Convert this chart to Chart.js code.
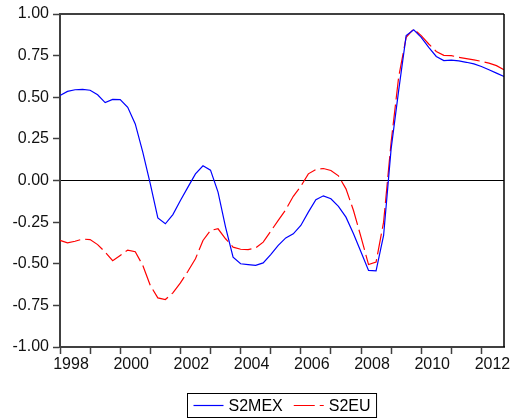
<!DOCTYPE html>
<html>
<head>
<meta charset="utf-8">
<script src="https://cdn.jsdelivr.net/npm/chart.js@4/dist/chart.umd.min.js"></script>
<style>
  html, body { margin: 0; padding: 0; background: #fff; }
  #wrap { width: 513px; height: 419px; position: relative; }
</style>
</head>
<body>
<div id="wrap"><canvas id="myChart"></canvas></div>
<script>
// quarterly sample 1998Q1 - 2012Q4
let years = [1998, 1999, 2000, 2001, 2002, 2003, 2004, 2005, 2006, 2007, 2008, 2009, 2010, 2011, 2012];
let quarters = [];
years.forEach((y) => { for (let q = 1; q <= 4; q++) quarters.push(y + 'Q' + q); });

let s2mex = [
   0.51,  0.535,  0.545,  0.547,  0.542,  0.515,  0.468,  0.487,
   0.486, 0.44,   0.34,   0.17,  -0.02,  -0.225, -0.26,  -0.205,
  -0.12, -0.04,   0.04,   0.088,  0.062, -0.07,  -0.28,  -0.46,
  -0.50, -0.505, -0.51,  -0.495, -0.445, -0.39,  -0.345, -0.32,
  -0.27, -0.19,  -0.115, -0.092, -0.11,  -0.155, -0.22,  -0.32,
  -0.43, -0.54,  -0.543, -0.33,   0.19,   0.54,   0.87,   0.905,
   0.86,  0.80,   0.745,  0.72,   0.723,  0.718,  0.71,   0.70,
   0.685, 0.665,  0.645,  0.625
];
let s2eu = [
  -0.36, -0.375, -0.365, -0.352, -0.355, -0.385, -0.43,  -0.482,
  -0.45, -0.418, -0.428, -0.51,  -0.63,  -0.705, -0.715, -0.675,
  -0.615, -0.545, -0.47, -0.36,  -0.30,  -0.29,  -0.35,  -0.40,
  -0.413, -0.415, -0.405, -0.37, -0.305, -0.24,  -0.175, -0.095,
  -0.035, 0.04,   0.066,  0.072,  0.06,   0.028, -0.05,  -0.18,
  -0.34, -0.505, -0.49,  -0.25,   0.23,   0.62,   0.86,   0.91,
   0.87,  0.82,   0.775,  0.752,  0.75,   0.74,   0.732,  0.724,
   0.716, 0.705,  0.69,   0.665
];
let yTicks = [-1, -0.75, -0.5, -0.25, 0, 0.25, 0.5, 0.75, 1];

let axisColor = '#404040';
let fontFamily = '"Liberation Sans", Arial, sans-serif';

// top and right edges of the plot frame
let framePlugin = {
  id: 'frame',
  afterDraw(chart) {
    let { ctx, chartArea: a } = chart;
    ctx.save();
    ctx.strokeStyle = axisColor;
    ctx.lineWidth = 2;
    ctx.beginPath();
    ctx.moveTo(a.left, a.top);
    ctx.lineTo(a.right, a.top);
    ctx.stroke();
    ctx.strokeStyle = '#000';
    ctx.lineWidth = 1.5;
    ctx.beginPath();
    ctx.moveTo(a.right, a.top);
    ctx.lineTo(a.right, a.bottom);
    ctx.stroke();
    ctx.restore();
  }
};

// boxed legend under the chart
let boxLegend = {
  id: 'boxLegend',
  afterDraw(chart) {
    let { ctx, chartArea: a } = chart;
    let sets = chart.data.datasets;
    ctx.save();
    ctx.font = '16px ' + fontFamily;
    let sample = 30, gapIn = 5, gapOut = 11, pad = 6;
    let w = pad * 2;
    sets.forEach((d, i) => {
      w += sample + gapIn + ctx.measureText(d.label).width;
      if (i < sets.length - 1) w += gapOut;
    });
    let h = 24;
    let x0 = Math.round((a.left + a.right) / 2 - w / 2) + 0.5;
    let y0 = 393.5;
    ctx.strokeStyle = '#000';
    ctx.lineWidth = 1;
    ctx.strokeRect(x0, y0, w, h);
    let x = x0 + pad;
    let ym = y0 + h / 2;
    sets.forEach((d) => {
      ctx.strokeStyle = d.borderColor;
      ctx.lineWidth = 1.2;
      ctx.setLineDash(d.borderDash || []);
      ctx.beginPath();
      ctx.moveTo(x, ym);
      ctx.lineTo(x + sample, ym);
      ctx.stroke();
      ctx.setLineDash([]);
      x += sample + gapIn;
      ctx.fillStyle = '#000';
      ctx.textBaseline = 'middle';
      ctx.fillText(d.label, x, ym + 1);
      x += ctx.measureText(d.label).width + gapOut;
    });
    ctx.restore();
  }
};

const ctx = document.getElementById('myChart');

new Chart(ctx, {
  type: 'line',
  data: {
    labels: quarters,
    datasets: [{
      label: 'S2MEX',
      data: s2mex,
      borderColor: '#0000ff',
      borderWidth: 1.2,
      pointRadius: 0,
      tension: 0
    }, {
      label: 'S2EU',
      data: s2eu,
      borderColor: '#ff0000',
      borderWidth: 1.2,
      borderDash: [21, 5],
      pointRadius: 0,
      tension: 0
    }]
  },
  options: {
    responsive: true,
    maintainAspectRatio: false,
    animation: false,
    layout: { padding: { top: 14, right: 9, bottom: 42, left: 0 } },
    plugins: {
      legend: { display: false },
      tooltip: { enabled: false }
    },
    scales: {
      x: {
        type: 'category',
        offset: false,
        afterBuildTicks: (s) => { s.ticks = s.ticks.filter((t) => t.value % 4 === 0); },
        afterFit: (s) => { s.height = 30; },
        grid: { drawOnChartArea: false, tickColor: axisColor, tickLength: 7, tickWidth: 1.5 },
        border: { color: axisColor, width: 2 },
        ticks: {
          autoSkip: false,
          maxRotation: 0,
          labelOffset: 11,
          padding: 1,
          color: '#111',
          font: { family: fontFamily, size: 16 },
          callback: function (v) {
            let q = quarters[v];
            let y = parseInt(q);
            return (q.endsWith('Q1') && y % 2 === 0) ? String(y) : '';
          }
        }
      },
      y: {
        min: -1,
        max: 1,
        afterBuildTicks: (s) => { s.ticks = yTicks.map((v) => ({ value: v })); },
        afterFit: (s) => { s.width = 60; },
        grid: {
          color: (c) => (c.tick && c.tick.value === 0) ? '#000' : 'rgba(0,0,0,0)',
          lineWidth: 1,
          tickColor: axisColor,
          tickLength: 7,
          tickWidth: 1.5
        },
        border: { color: axisColor, width: 2 },
        ticks: {
          padding: 4,
          color: '#111',
          font: { family: fontFamily, size: 16 },
          callback: (v) => Number(v).toFixed(2)
        }
      }
    }
  },
  plugins: [framePlugin, boxLegend]
});
</script>
</body>
</html>
